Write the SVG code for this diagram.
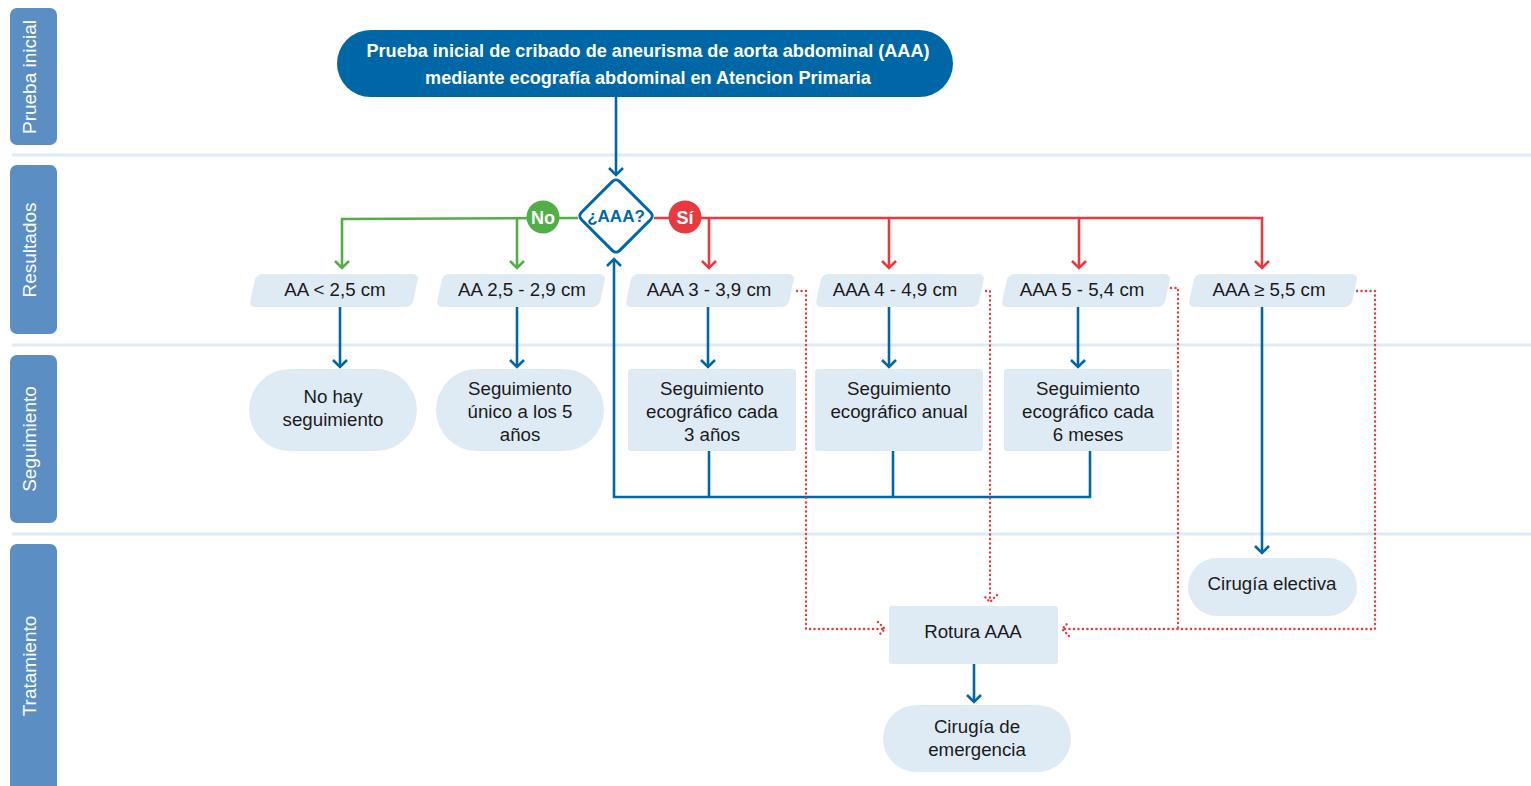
<svg xmlns="http://www.w3.org/2000/svg" width="1531" height="786" viewBox="0 0 1531 786">
  <style>
    .lane { fill: #5b8fc4; }
    .lanetxt { fill: #ffffff; font-family: "Liberation Sans", Arial, sans-serif; font-size: 19px; text-anchor: middle; }
    .sep { stroke: #deebf6; stroke-width: 3; }
    .box { fill: #deebf5; }
    .txt { fill: #1a1a1a; font-family: "Liberation Sans", Arial, sans-serif; font-size: 18.7px; text-anchor: middle; }
    .blue { fill: none; stroke: #0067a7; stroke-width: 2.6; }
    .green { fill: none; stroke: #53ae48; stroke-width: 2.6; }
    .red { fill: none; stroke: #e8393f; stroke-width: 2.6; }
    .dot { fill: none; stroke: #e8393f; stroke-width: 2.4; stroke-dasharray: 0.1 4.4; stroke-linecap: round; }
    .title { fill: #ffffff; font-family: "Liberation Sans", Arial, sans-serif; font-size: 18.1px; font-weight: bold; text-anchor: middle; }
  </style>
  <defs>
    <marker id="ah-blue" markerUnits="userSpaceOnUse" markerWidth="20" markerHeight="20" refX="0" refY="0" viewBox="-10 -10 20 20" orient="auto">
      <path d="M-7,-7 L0,0 L-7,7" fill="none" stroke="#0067a7" stroke-width="2.6"/>
    </marker>
    <marker id="ah-green" markerUnits="userSpaceOnUse" markerWidth="20" markerHeight="20" refX="0" refY="0" viewBox="-10 -10 20 20" orient="auto">
      <path d="M-7,-7 L0,0 L-7,7" fill="none" stroke="#53ae48" stroke-width="2.6"/>
    </marker>
    <marker id="ah-red" markerUnits="userSpaceOnUse" markerWidth="20" markerHeight="20" refX="0" refY="0" viewBox="-10 -10 20 20" orient="auto">
      <path d="M-7,-7 L0,0 L-7,7" fill="none" stroke="#e8393f" stroke-width="2.6"/>
    </marker>
    <marker id="ah-dot" markerUnits="userSpaceOnUse" markerWidth="20" markerHeight="20" refX="0" refY="0" viewBox="-10 -10 20 20" orient="auto">
      <path d="M-7,-7 L0,0 L-7,7" fill="none" stroke="#e8393f" stroke-width="2.4" stroke-dasharray="0.1 4" stroke-linecap="round"/>
    </marker>
  </defs>

  <rect width="1531" height="786" fill="#ffffff"/>

  <!-- swimlane headers and separators -->
  <g id="lanes">
    <line class="sep" x1="12" y1="155" x2="1531" y2="155"/>
    <line class="sep" x1="12" y1="345" x2="1531" y2="345"/>
    <line class="sep" x1="12" y1="534" x2="1531" y2="534"/>
    <rect class="lane" x="10" y="8" width="47" height="137" rx="7"/>
    <text class="lanetxt" transform="translate(36,77) rotate(-90)">Prueba inicial</text>
    <rect class="lane" x="10" y="165" width="47" height="169" rx="7"/>
    <text class="lanetxt" transform="translate(36,250) rotate(-90)">Resultados</text>
    <rect class="lane" x="10" y="355" width="47" height="168" rx="7"/>
    <text class="lanetxt" transform="translate(36,439) rotate(-90)">Seguimiento</text>
    <rect class="lane" x="10" y="544" width="47" height="250" rx="7"/>
    <text class="lanetxt" transform="translate(36,666) rotate(-90)">Tratamiento</text>
  </g>

  <!-- connectors -->
  <g id="connectors">
    <line class="blue" x1="616" y1="97" x2="616" y2="175" marker-end="url(#ah-blue)"/>
    <!-- No branch -->
    <polyline class="green" points="578,218 342,219 342,268" marker-end="url(#ah-green)"/>
    <line class="green" x1="517" y1="218" x2="517" y2="268" marker-end="url(#ah-green)"/>
    <!-- Sí branch -->
    <polyline class="red" points="654,218 1262,218 1262,268" marker-end="url(#ah-red)"/>
    <line class="red" x1="709" y1="218" x2="709" y2="268" marker-end="url(#ah-red)"/>
    <line class="red" x1="889" y1="218" x2="889" y2="268" marker-end="url(#ah-red)"/>
    <line class="red" x1="1079" y1="218" x2="1079" y2="268" marker-end="url(#ah-red)"/>
    <!-- result to follow-up -->
    <line class="blue" x1="340" y1="307" x2="340" y2="367" marker-end="url(#ah-blue)"/>
    <line class="blue" x1="517" y1="307" x2="517" y2="367" marker-end="url(#ah-blue)"/>
    <line class="blue" x1="708" y1="307" x2="708" y2="367" marker-end="url(#ah-blue)"/>
    <line class="blue" x1="889" y1="307" x2="889" y2="367" marker-end="url(#ah-blue)"/>
    <line class="blue" x1="1078" y1="307" x2="1078" y2="367" marker-end="url(#ah-blue)"/>
    <line class="blue" x1="1262" y1="307" x2="1262" y2="553" marker-end="url(#ah-blue)"/>
    <!-- follow-up loop back to the test -->
    <polyline class="blue" points="709,451 709,497"/>
    <polyline class="blue" points="893,451 893,497"/>
    <polyline class="blue" points="1090,451 1090,497 614,497 614,259" marker-end="url(#ah-blue)"/>
    <!-- rupture paths -->
    <polyline class="dot" points="797,291 806,291 806,629 885,629" marker-end="url(#ah-dot)"/>
    <polyline class="dot" points="986,291 990,291 990,602" marker-end="url(#ah-dot)"/>
    <polyline class="dot" points="1171,288 1178,288 1178,629"/>
    <polyline class="dot" points="1357,291 1375,291 1375,629 1062,629" marker-end="url(#ah-dot)"/>
    <!-- rupture to emergency surgery -->
    <line class="blue" x1="974" y1="664" x2="974" y2="702" marker-end="url(#ah-blue)"/>
  </g>

  <!-- initial test -->
  <g id="n-prueba">
    <rect x="337" y="30" width="616" height="67" rx="33.5" fill="#0067a7"/>
    <text class="title" x="648" y="57">Prueba inicial de cribado de aneurisma de aorta abdominal (AAA)</text>
    <text class="title" x="648" y="84">mediante ecografía abdominal en Atencion Primaria</text>
  </g>

  <!-- decision -->
  <g id="n-decision">
    <rect x="-27" y="-27" width="54" height="54" rx="5" transform="translate(616,216) rotate(45)" fill="#ffffff" stroke="#0067a7" stroke-width="3"/>
    <text x="616" y="222" font-family="Liberation Sans, Arial, sans-serif" font-size="17" font-weight="bold" fill="#0067a7" text-anchor="middle">¿AAA?</text>
  </g>
  <g id="n-no">
    <circle cx="543" cy="217" r="16.5" fill="#53ae48"/>
    <text x="543" y="223.5" font-family="Liberation Sans, Arial, sans-serif" font-size="18" font-weight="bold" fill="#ffffff" text-anchor="middle">No</text>
  </g>
  <g id="n-si">
    <circle cx="685" cy="217" r="16.5" fill="#e8393f"/>
    <text x="685" y="223.5" font-family="Liberation Sans, Arial, sans-serif" font-size="18" font-weight="bold" fill="#ffffff" text-anchor="middle">Sí</text>
  </g>

  <!-- results -->
  <g id="r-1">
    <rect class="box" x="0" y="0" width="163" height="33" rx="6" transform="translate(256,274) skewX(-12)"/>
    <text class="txt" x="335" y="296">AA &lt; 2,5 cm</text>
  </g>
  <g id="r-2">
    <rect class="box" x="0" y="0" width="163" height="33" rx="6" transform="translate(443,274) skewX(-12)"/>
    <text class="txt" x="522" y="296">AA 2,5 - 2,9 cm</text>
  </g>
  <g id="r-3">
    <rect class="box" x="0" y="0" width="163" height="33" rx="6" transform="translate(632,274) skewX(-12)"/>
    <text class="txt" x="709" y="296">AAA 3 - 3,9 cm</text>
  </g>
  <g id="r-4">
    <rect class="box" x="0" y="0" width="163" height="33" rx="6" transform="translate(822,274) skewX(-12)"/>
    <text class="txt" x="895" y="296">AAA 4 - 4,9 cm</text>
  </g>
  <g id="r-5">
    <rect class="box" x="0" y="0" width="163" height="33" rx="6" transform="translate(1008,274) skewX(-12)"/>
    <text class="txt" x="1082" y="296">AAA 5 - 5,4 cm</text>
  </g>
  <g id="r-6">
    <rect class="box" x="0" y="0" width="163" height="33" rx="6" transform="translate(1195,274) skewX(-12)"/>
    <text class="txt" x="1269" y="296">AAA ≥ 5,5 cm</text>
  </g>

  <!-- follow-up -->
  <g id="s-1">
    <rect class="box" x="249" y="369" width="168" height="82" rx="41"/>
    <text class="txt" x="333" y="403">No hay</text>
    <text class="txt" x="333" y="426">seguimiento</text>
  </g>
  <g id="s-2">
    <rect class="box" x="436" y="369" width="168" height="82" rx="41"/>
    <text class="txt" x="520" y="395">Seguimiento</text>
    <text class="txt" x="520" y="418">único a los 5</text>
    <text class="txt" x="520" y="441">años</text>
  </g>
  <g id="s-3">
    <rect class="box" x="628" y="369" width="168" height="82" rx="3"/>
    <text class="txt" x="712" y="395">Seguimiento</text>
    <text class="txt" x="712" y="418">ecográfico cada</text>
    <text class="txt" x="712" y="441">3 años</text>
  </g>
  <g id="s-4">
    <rect class="box" x="815" y="369" width="168" height="82" rx="3"/>
    <text class="txt" x="899" y="395">Seguimiento</text>
    <text class="txt" x="899" y="418">ecográfico anual</text>
  </g>
  <g id="s-5">
    <rect class="box" x="1004" y="369" width="168" height="82" rx="3"/>
    <text class="txt" x="1088" y="395">Seguimiento</text>
    <text class="txt" x="1088" y="418">ecográfico cada</text>
    <text class="txt" x="1088" y="441">6 meses</text>
  </g>

  <!-- treatment -->
  <g id="t-electiva">
    <rect class="box" x="1188" y="558" width="169" height="58" rx="29"/>
    <text class="txt" x="1272" y="590">Cirugía electiva</text>
  </g>
  <g id="t-rotura">
    <rect class="box" x="889" y="606" width="169" height="58" rx="3"/>
    <text class="txt" x="973" y="638">Rotura AAA</text>
  </g>
  <g id="t-emergencia">
    <rect class="box" x="883" y="705" width="188" height="67" rx="33.5"/>
    <text class="txt" x="977" y="733">Cirugía de</text>
    <text class="txt" x="977" y="756">emergencia</text>
  </g>
</svg>
